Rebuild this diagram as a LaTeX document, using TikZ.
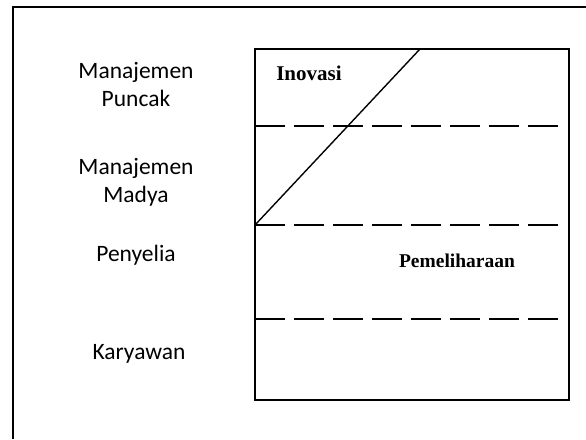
\documentclass[tikz,border=0pt]{standalone}
\usepackage{fontspec}
\setmainfont{Carlito}
\newfontfamily\timesfont{Liberation Serif}
\usetikzlibrary{positioning}
\tikzset{
    level/.style={
    align=center,inner sep=0pt,font=\fontsize{23.5}{28}\selectfont
    },
    area/.style={
    inner sep=0pt,font=\timesfont\bfseries
    },
    border/.style={
    draw=black,line width=2pt
    },
    frame/.style={
    draw=black,line width=1.6pt
    },
    divider/.style={
    draw=black,line width=1.6pt,dash pattern=on 30pt off 9pt
    },
}

\begin{document}
\begin{tikzpicture}[x=1pt,y=-1pt]
   \useasboundingbox (0,0) rectangle (586,439);

   %outer frame
   \coordinate (o1) at (13,439);
   \coordinate (o2) at (13,7);
   \coordinate (o3) at (587,7);
   \path[border] (o1) -- (o2) -- (o3);

   %levels
   \node[level] (top) at (136,85) {Manajemen\\Puncak};
   \node[level] (mid) at (136,182) {Manajemen\\Madya};
   \node[level] (sup) at (136,255) {Penyelia};
   \node[level] (emp) at (139,354) {Karyawan};

   %box
   \coordinate (b1) at (255,49);
   \coordinate (b2) at (569,400);
   \path[frame] (b1) rectangle (b2);

   \coordinate (l1) at (255,126);
   \coordinate (r1) at (563,126);
   \coordinate (l2) at (255,225);
   \coordinate (r2) at (563,225);
   \coordinate (l3) at (255,319);
   \coordinate (r3) at (563,319);
   \coordinate (d1) at (420,49);

   \path[divider] (l1) -- (r1);
   \path[divider] (l2) -- (r2);
   \path[divider] (l3) -- (r3);
   \path[draw=black,line width=1.4pt] (l2) -- (d1);

   \node[area,font=\timesfont\bfseries\fontsize{21}{24}\selectfont] (inov) at (309,73) {Inovasi};
   \node[area,font=\timesfont\bfseries\fontsize{19.5}{23}\selectfont] (mnt) at (457,261) {Pemeliharaan};
\end{tikzpicture}
\end{document}
